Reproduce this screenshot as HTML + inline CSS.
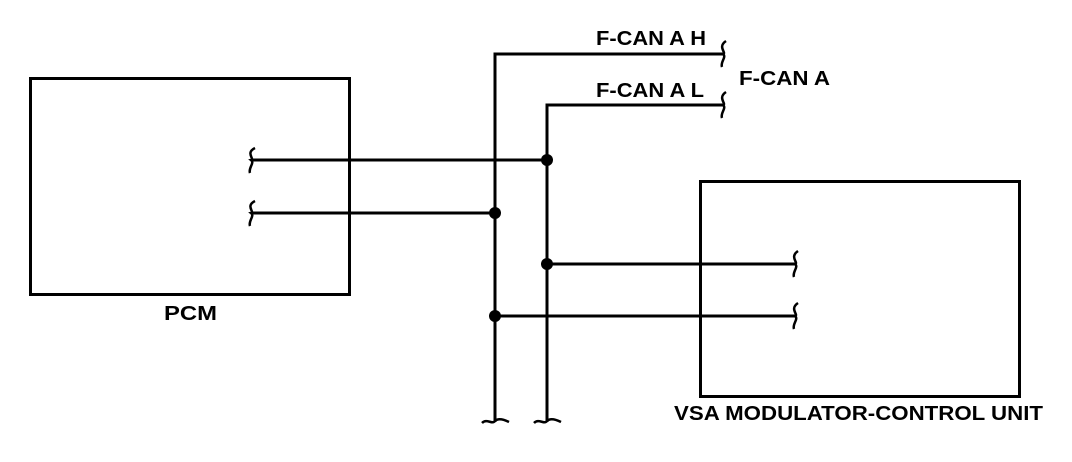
<!DOCTYPE html>
<html><head><meta charset="utf-8"><style>html,body{margin:0;padding:0;background:#fff}svg{display:block}</style></head>
<body>
<svg width="1072" height="462" viewBox="0 0 1072 462" xmlns="http://www.w3.org/2000/svg">
<g fill="none" stroke="#000" stroke-width="3">
<rect x="30.5" y="78.5" width="319" height="216"/>
<rect x="700.5" y="181.5" width="319" height="215"/>
<polyline points="495,422 495,54 724,54"/>
<polyline points="547,422 547,105 724,105"/>
<line x1="251" y1="160" x2="547" y2="160"/>
<line x1="251" y1="213" x2="495" y2="213"/>
<line x1="547" y1="264" x2="796" y2="264"/>
<line x1="495" y1="316" x2="796" y2="316"/>
</g>
<g fill="none" stroke="#000" stroke-width="2.5">
<path d="M255,148 C245,153 255,159 251,160 C255,163 248,168 250,173"/>
<path d="M255,201 C245,206 255,212 251,213 C255,216 248,221 250,226"/>
<path d="M726,41 C717,47 727,53 723,54 C727,57 720,62 722,67"/>
<path d="M726,92 C717,98 727,104 723,105 C727,108 720,113 722,118"/>
<path d="M798,251 C789,257 799,263 795,264 C799,267 792,272 794,277"/>
<path d="M798,303 C789,309 799,315 795,316 C799,319 792,324 794,329"/>
<path d="M482,423 C487,418 492,425 495,421 C498,418 503,419 509,422"/>
<path d="M534,423 C539,418 544,425 547,421 C550,418 555,419 561,422"/>
</g>
<g fill="#000">
<circle cx="547" cy="160" r="6"/>
<circle cx="495" cy="213" r="6"/>
<circle cx="547" cy="264" r="6"/>
<circle cx="495" cy="316" r="6"/>
</g>
<g font-family="Liberation Sans, Arial, sans-serif" font-weight="bold" font-size="20" fill="#000">
<text x="596" y="45" textLength="110" lengthAdjust="spacingAndGlyphs">F-CAN A H</text>
<text x="596" y="97" textLength="108" lengthAdjust="spacingAndGlyphs">F-CAN A L</text>
<text x="739" y="85" textLength="91" lengthAdjust="spacingAndGlyphs">F-CAN A</text>
<text x="164" y="320" textLength="53" lengthAdjust="spacingAndGlyphs">PCM</text>
<text x="674" y="420" textLength="369" lengthAdjust="spacingAndGlyphs">VSA MODULATOR-CONTROL UNIT</text>
</g>
</svg>
</body></html>
